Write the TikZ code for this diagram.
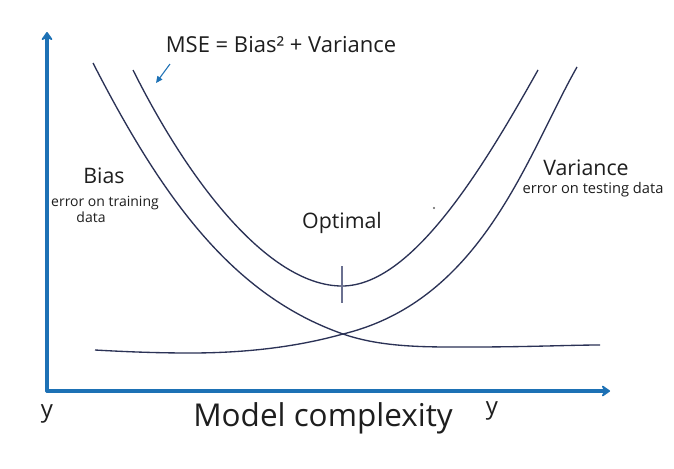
\documentclass[tikz,border=0pt]{standalone}
\usepackage{fontspec}
\setmainfont{Open Sans}
\usetikzlibrary{arrows.meta}
\definecolor{axisblue}{HTML}{1D71B5}
\definecolor{curvenavy}{HTML}{2B3256}
\definecolor{txt}{HTML}{1E1E1E}
\definecolor{tickgray}{HTML}{6A7090}
\tikzset{
  axisline/.style={draw=axisblue, line width=2.4pt, line cap=round, -{Stealth[length=7.5pt,width=10.5pt,inset=2.8pt,round]}},
  curve/.style={draw=curvenavy, line width=1pt},
  lbl/.style={inner sep=0pt, outer sep=0pt, text=txt, anchor=base},
  biglbl/.style={lbl, font=\fontsize{16}{18}\selectfont},
  smalllbl/.style={lbl, font=\fontsize{10.5}{12}\selectfont},
  pointer/.style={draw=axisblue, line width=0.8pt, -{Triangle[length=5pt,width=4.5pt]}},
}
\begin{document}
\begin{tikzpicture}[x=0.75pt,y=-0.75pt]
\path[use as bounding box, fill=white] (0,0) rectangle (674,468);
% axes
\coordinate (origin) at (47,391);
\coordinate (ytip) at (47,32);
\coordinate (xtip) at (610,391);
\draw[axisline] (origin) -- (ytip);
\draw[axisline] (origin) -- (xtip);
% MSE curve
\draw[curve] (133,70) .. controls (193,190) and (272,286) .. (342,286)
                      .. controls (412,286) and (483,168) .. (538,70);
% Bias curve
\draw[curve] (93,63) .. controls (163,199.5) and (233,295.5) .. (343,334)
                     .. controls (383,348) and (430,347) .. (470,347)
                     .. controls (530,347) and (570,345) .. (600,345);
% Variance curve
\draw[curve] (95,350) .. controls (130,352) and (160,353) .. (190,353)
                      .. controls (250,353) and (300,346) .. (343,334)
                      .. controls (483,300) and (527,155) .. (577,67);
% optimal tick
\coordinate (tickTop) at (342,266);
\coordinate (tickBot) at (342,303);
\draw[draw=tickgray, line width=0.8pt] (tickTop) -- (tickBot);
% dot
\fill[txt!70] (434,208) circle (1.1);
% labels
\node[lbl, font=\fontsize{16.5}{20}\selectfont] (mse) at (281,52) {MSE = Bias² + Variance};
\coordinate (ptrStart) at (170,64);
\coordinate (ptrEnd) at (156,83);
\draw[pointer] (ptrStart) -- (ptrEnd);
\node[biglbl] (bias) at (104,183) {Bias};
\node[smalllbl] (biasA) at (105,206) {error on training};
\node[smalllbl] (biasB) at (91,222) {data};
\node[biglbl] (opt) at (342,228) {Optimal};
\node[biglbl] (var) at (586,175) {Variance};
\node[smalllbl, font=\fontsize{11}{12}\selectfont] (varA) at (593,193) {error on testing data};
\node[lbl, font=\fontsize{18}{20}\selectfont] (yl) at (47,417) {y};
\node[lbl, font=\fontsize{18}{20}\selectfont] (yr) at (492,414) {y};
\node[lbl, font=\fontsize{23.6}{26}\selectfont] (mc) at (323,426) {Model complexity};
\end{tikzpicture}
\end{document}
